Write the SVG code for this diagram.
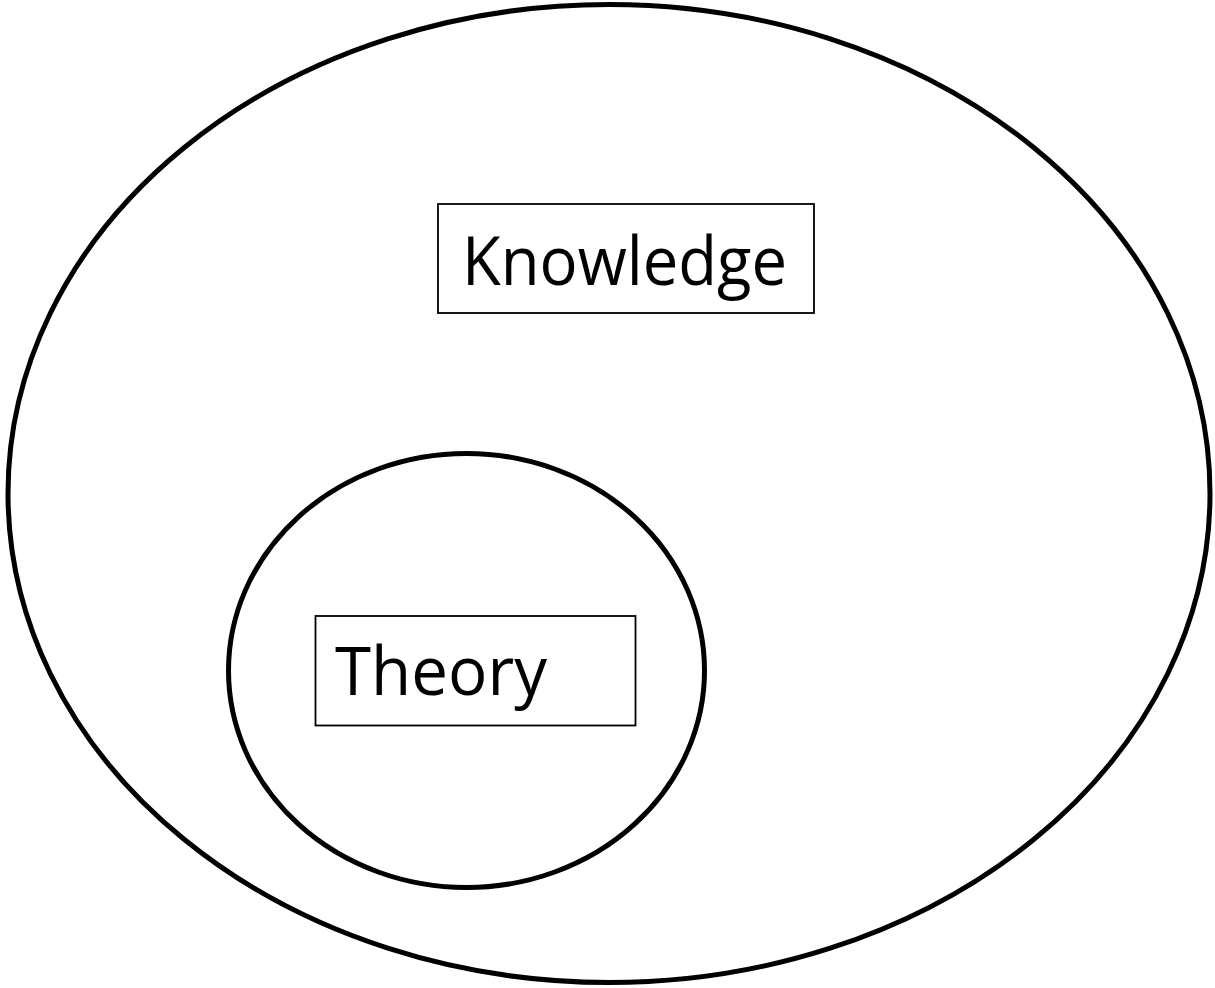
<svg xmlns="http://www.w3.org/2000/svg" width="1215" height="988" viewBox="0 0 1215 988">
<style>
.circ{fill:none;stroke:#000;stroke-width:5}
.box{fill:#fff;stroke:#000;stroke-width:1.8}
.lbl{font-family:"Open Sans","Noto Sans",sans-serif;font-size:68px;fill:#000}
</style>
<rect width="1215" height="988" fill="#fff"/>
<g id="knowledge-set">
<ellipse class="circ" cx="609" cy="493.5" rx="601" ry="489"/>
</g>
<g id="theory-set">
<ellipse class="circ" cx="466.5" cy="670.5" rx="238" ry="217"/>
</g>
<g id="knowledge-label">
<rect class="box" x="438" y="204" width="376" height="109"/>
<text class="lbl" x="462" y="285" textLength="325" lengthAdjust="spacingAndGlyphs">Knowledge</text>
</g>
<g id="theory-label">
<rect class="box" x="315.5" y="616" width="320" height="109.5"/>
<text class="lbl" x="335" y="695" textLength="212" lengthAdjust="spacingAndGlyphs">Theory</text>
</g>
<g id="connectors"></g>
</svg>
